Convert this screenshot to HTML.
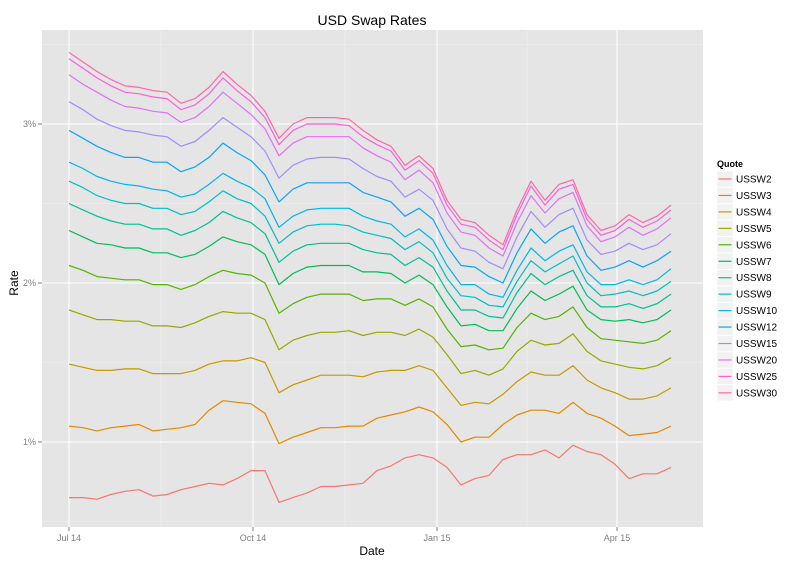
<!DOCTYPE html>
<html><head><meta charset="utf-8"><style>
body{margin:0;background:#fff;}
svg text{font-family:"Liberation Sans",sans-serif;}
</style></head><body>
<svg id="chart" width="800" height="566" xmlns="http://www.w3.org/2000/svg">
<rect x="42" y="30" width="661" height="497" fill="#e5e5e5"/>
<g id="grid"></g>
<g id="series"></g>
<g id="axes"></g>
<text x="372" y="25" font-size="14" text-anchor="middle" fill="#000">USD Swap Rates</text>
<text x="372" y="555" font-size="12" text-anchor="middle" fill="#000">Date</text>
<text x="18" y="283" font-size="12" text-anchor="middle" fill="#000" transform="rotate(-90 18 283)">Rate</text>
<g id="legend"></g>
</svg>
<script>
const dates=["2014-07-01","2014-07-08","2014-07-15","2014-07-22","2014-07-29","2014-08-05","2014-08-12","2014-08-19","2014-08-26","2014-09-02","2014-09-09","2014-09-16","2014-09-23","2014-09-30","2014-10-07","2014-10-14","2014-10-21","2014-10-28","2014-11-04","2014-11-11","2014-11-18","2014-11-25","2014-12-02","2014-12-09","2014-12-16","2014-12-23","2014-12-30","2015-01-06","2015-01-13","2015-01-20","2015-01-27","2015-02-03","2015-02-10","2015-02-17","2015-02-24","2015-03-03","2015-03-10","2015-03-17","2015-03-24","2015-03-31","2015-04-07","2015-04-14","2015-04-21","2015-04-28"];
const quotes=["USSW2","USSW3","USSW4","USSW5","USSW6","USSW7","USSW8","USSW9","USSW10","USSW12","USSW15","USSW20","USSW25","USSW30"];
const USSW2=[0.65,0.65,0.64,0.67,0.69,0.70,0.66,0.67,0.70,0.72,0.74,0.73,0.77,0.82,0.82,0.62,0.65,0.68,0.72,0.72,0.73,0.74,0.82,0.85,0.90,0.92,0.90,0.84,0.73,0.77,0.79,0.89,0.92,0.92,0.95,0.90,0.98,0.94,0.92,0.86,0.77,0.80,0.80,0.84];
const USSW3=[1.10,1.09,1.07,1.09,1.10,1.11,1.07,1.08,1.09,1.11,1.20,1.26,1.25,1.24,1.18,0.99,1.03,1.06,1.09,1.09,1.10,1.10,1.15,1.17,1.19,1.22,1.19,1.11,1.00,1.03,1.03,1.11,1.17,1.20,1.20,1.18,1.25,1.18,1.15,1.10,1.04,1.05,1.06,1.10];
const USSW4=[1.49,1.47,1.45,1.45,1.46,1.46,1.43,1.43,1.43,1.45,1.49,1.51,1.51,1.53,1.50,1.31,1.36,1.39,1.42,1.42,1.42,1.41,1.44,1.45,1.45,1.48,1.45,1.34,1.23,1.25,1.24,1.30,1.38,1.44,1.42,1.42,1.48,1.39,1.34,1.31,1.27,1.27,1.29,1.34];
const USSW5=[1.83,1.80,1.77,1.77,1.76,1.76,1.73,1.73,1.72,1.75,1.79,1.82,1.81,1.81,1.77,1.58,1.64,1.67,1.69,1.69,1.70,1.67,1.69,1.69,1.67,1.71,1.66,1.55,1.43,1.45,1.42,1.46,1.57,1.64,1.61,1.62,1.68,1.57,1.51,1.49,1.47,1.46,1.48,1.53];
const USSW6=[2.11,2.08,2.04,2.03,2.02,2.02,1.99,1.99,1.96,1.99,2.04,2.08,2.06,2.05,2.00,1.81,1.87,1.91,1.93,1.93,1.93,1.89,1.90,1.90,1.86,1.90,1.85,1.71,1.60,1.61,1.58,1.59,1.72,1.81,1.77,1.79,1.85,1.72,1.65,1.64,1.63,1.62,1.64,1.70];
const USSW7=[2.33,2.29,2.25,2.24,2.22,2.22,2.19,2.19,2.16,2.18,2.23,2.29,2.26,2.24,2.18,1.99,2.06,2.10,2.11,2.11,2.11,2.07,2.07,2.06,2.00,2.05,1.99,1.85,1.73,1.74,1.70,1.70,1.84,1.95,1.89,1.93,1.98,1.83,1.77,1.76,1.77,1.75,1.77,1.83];
const USSW8=[2.50,2.46,2.42,2.39,2.37,2.37,2.34,2.34,2.30,2.33,2.38,2.45,2.41,2.38,2.31,2.13,2.20,2.24,2.25,2.25,2.25,2.21,2.19,2.18,2.11,2.16,2.10,1.95,1.83,1.83,1.79,1.78,1.94,2.06,1.99,2.04,2.08,1.92,1.85,1.85,1.87,1.84,1.87,1.93];
const USSW9=[2.64,2.60,2.55,2.52,2.50,2.50,2.47,2.47,2.43,2.45,2.51,2.58,2.53,2.50,2.42,2.25,2.32,2.36,2.37,2.37,2.36,2.32,2.30,2.28,2.21,2.26,2.19,2.03,1.92,1.91,1.86,1.85,2.01,2.14,2.07,2.12,2.17,2.00,1.92,1.93,1.95,1.92,1.95,2.01];
const USSW10=[2.76,2.72,2.67,2.64,2.62,2.61,2.59,2.58,2.54,2.56,2.62,2.69,2.64,2.60,2.53,2.35,2.42,2.46,2.47,2.47,2.47,2.42,2.39,2.37,2.29,2.34,2.27,2.11,1.99,1.99,1.93,1.91,2.08,2.22,2.14,2.20,2.24,2.07,1.99,1.99,2.02,1.99,2.02,2.09];
const USSW12=[2.96,2.91,2.86,2.82,2.79,2.79,2.76,2.76,2.70,2.73,2.79,2.88,2.82,2.77,2.68,2.51,2.59,2.63,2.63,2.63,2.63,2.57,2.54,2.51,2.42,2.47,2.40,2.23,2.11,2.10,2.04,2.00,2.19,2.34,2.25,2.32,2.36,2.17,2.08,2.10,2.14,2.10,2.14,2.20];
const USSW15=[3.14,3.09,3.03,2.99,2.96,2.95,2.93,2.92,2.86,2.89,2.96,3.04,2.98,2.92,2.83,2.66,2.74,2.78,2.79,2.79,2.78,2.72,2.67,2.64,2.54,2.59,2.52,2.34,2.22,2.20,2.13,2.09,2.29,2.45,2.35,2.43,2.47,2.27,2.18,2.20,2.25,2.21,2.24,2.31];
const USSW20=[3.31,3.25,3.20,3.15,3.11,3.10,3.08,3.07,3.01,3.04,3.11,3.20,3.13,3.06,2.97,2.80,2.88,2.92,2.92,2.92,2.92,2.85,2.80,2.76,2.65,2.71,2.63,2.44,2.32,2.30,2.22,2.17,2.38,2.55,2.44,2.53,2.57,2.36,2.26,2.29,2.35,2.30,2.34,2.41];
const USSW25=[3.41,3.35,3.29,3.24,3.20,3.19,3.17,3.16,3.09,3.12,3.19,3.29,3.21,3.14,3.04,2.87,2.96,3.00,3.00,3.00,2.99,2.92,2.87,2.83,2.71,2.77,2.69,2.49,2.37,2.35,2.27,2.21,2.43,2.61,2.49,2.59,2.62,2.40,2.30,2.33,2.40,2.35,2.39,2.46];
const USSW30=[3.45,3.39,3.33,3.28,3.24,3.23,3.21,3.20,3.13,3.16,3.23,3.33,3.25,3.18,3.08,2.91,3.00,3.04,3.04,3.04,3.03,2.96,2.90,2.86,2.74,2.80,2.72,2.52,2.40,2.38,2.30,2.24,2.46,2.64,2.52,2.62,2.65,2.43,2.33,2.36,2.43,2.38,2.42,2.49];
const yTicks=[1,2,3];
const yTickLabels=["1%","2%","3%"];
const xTicks=["2014-07-01","2014-10-01","2015-01-01","2015-04-01"];
const xTickLabels=["Jul 14","Oct 14","Jan 15","Apr 15"];
const xMinor=["2014-08-16","2014-11-16","2015-02-15"];
const yMinor=[0.5,1.5,2.5,3.5];

const allSeries=[USSW2,USSW3,USSW4,USSW5,USSW6,USSW7,USSW8,USSW9,USSW10,USSW12,USSW15,USSW20,USSW25,USSW30];
const colors=["#F8766D","#E38900","#C49A00","#99A800","#53B400","#00BC56","#00C094","#00BFC4","#00B6EB","#06A4FF","#A58AFF","#DF70F8","#FB61D7","#FF66A8"];
const NS="http://www.w3.org/2000/svg";
const t0=Date.UTC(2014,6,1);
function xs(d){const p=d.split("-");const t=Date.UTC(+p[0],+p[1]-1,+p[2]);return 69+(t-t0)/86400000*2.0;}
function ys(v){return 442-(v-1)*159;}
function mk(tag,attrs,parent){const e=document.createElementNS(NS,tag);for(const k in attrs)e.setAttribute(k,attrs[k]);parent.appendChild(e);return e;}
const grid=document.getElementById("grid");
yMinor.forEach(v=>{const l=mk("line",{x1:42,x2:703,y1:ys(v),y2:ys(v),stroke:"#f2f2f2","stroke-width":0.6},grid);

});
xMinor.forEach(d=>{const l=mk("line",{x1:xs(d),x2:xs(d),y1:30,y2:527,stroke:"#f2f2f2","stroke-width":0.6},grid);

});
yTicks.forEach(v=>{const l=mk("line",{x1:42,x2:703,y1:ys(v),y2:ys(v),stroke:"#fff","stroke-width":1.1},grid);

});
xTicks.forEach(d=>{const l=mk("line",{x1:xs(d),x2:xs(d),y1:30,y2:527,stroke:"#fff","stroke-width":1.1},grid);

});
const sg=document.getElementById("series");
allSeries.forEach((s,k)=>{const pts=s.map((v,i)=>xs(dates[i]).toFixed(1)+","+ys(v).toFixed(1)).join(" ");
const p=mk("polyline",{points:pts,fill:"none",stroke:colors[k],"stroke-width":1.2,"stroke-linejoin":"round"},sg);

});
const ax=document.getElementById("axes");
yTicks.forEach((v,i)=>{const l=mk("line",{x1:38,x2:42,y1:ys(v),y2:ys(v),stroke:"#7f7f7f","stroke-width":1},ax);


const t=mk("text",{x:36,y:ys(v)+3,"font-size":9,"text-anchor":"end",fill:"#7f7f7f"},ax);t.textContent=yTickLabels[i];

});
xTicks.forEach((d,i)=>{const l=mk("line",{x1:xs(d),x2:xs(d),y1:527,y2:531,stroke:"#7f7f7f","stroke-width":1},ax);


const t=mk("text",{x:xs(d),y:541,"font-size":9,"text-anchor":"middle",fill:"#7f7f7f"},ax);t.textContent=xTickLabels[i];

});
const lg=document.getElementById("legend");
const lt=mk("text",{x:717,y:167,"font-size":9,"font-weight":"bold",fill:"#000"},lg);lt.textContent="Quote";


quotes.forEach((q,k)=>{const cy=179+k*16.45;
const g=mk("g",{},lg);


mk("rect",{x:717,y:cy-8,width:16,height:16,fill:"#f2f2f2",stroke:"#fff","stroke-width":0.5},g);
mk("line",{x1:718.5,x2:731.5,y1:cy,y2:cy,stroke:colors[k],"stroke-width":1.2},g);
const t=mk("text",{x:736,y:cy+3.5,"font-size":10,fill:"#000"},g);t.textContent=q;});
</script>
</body></html>
